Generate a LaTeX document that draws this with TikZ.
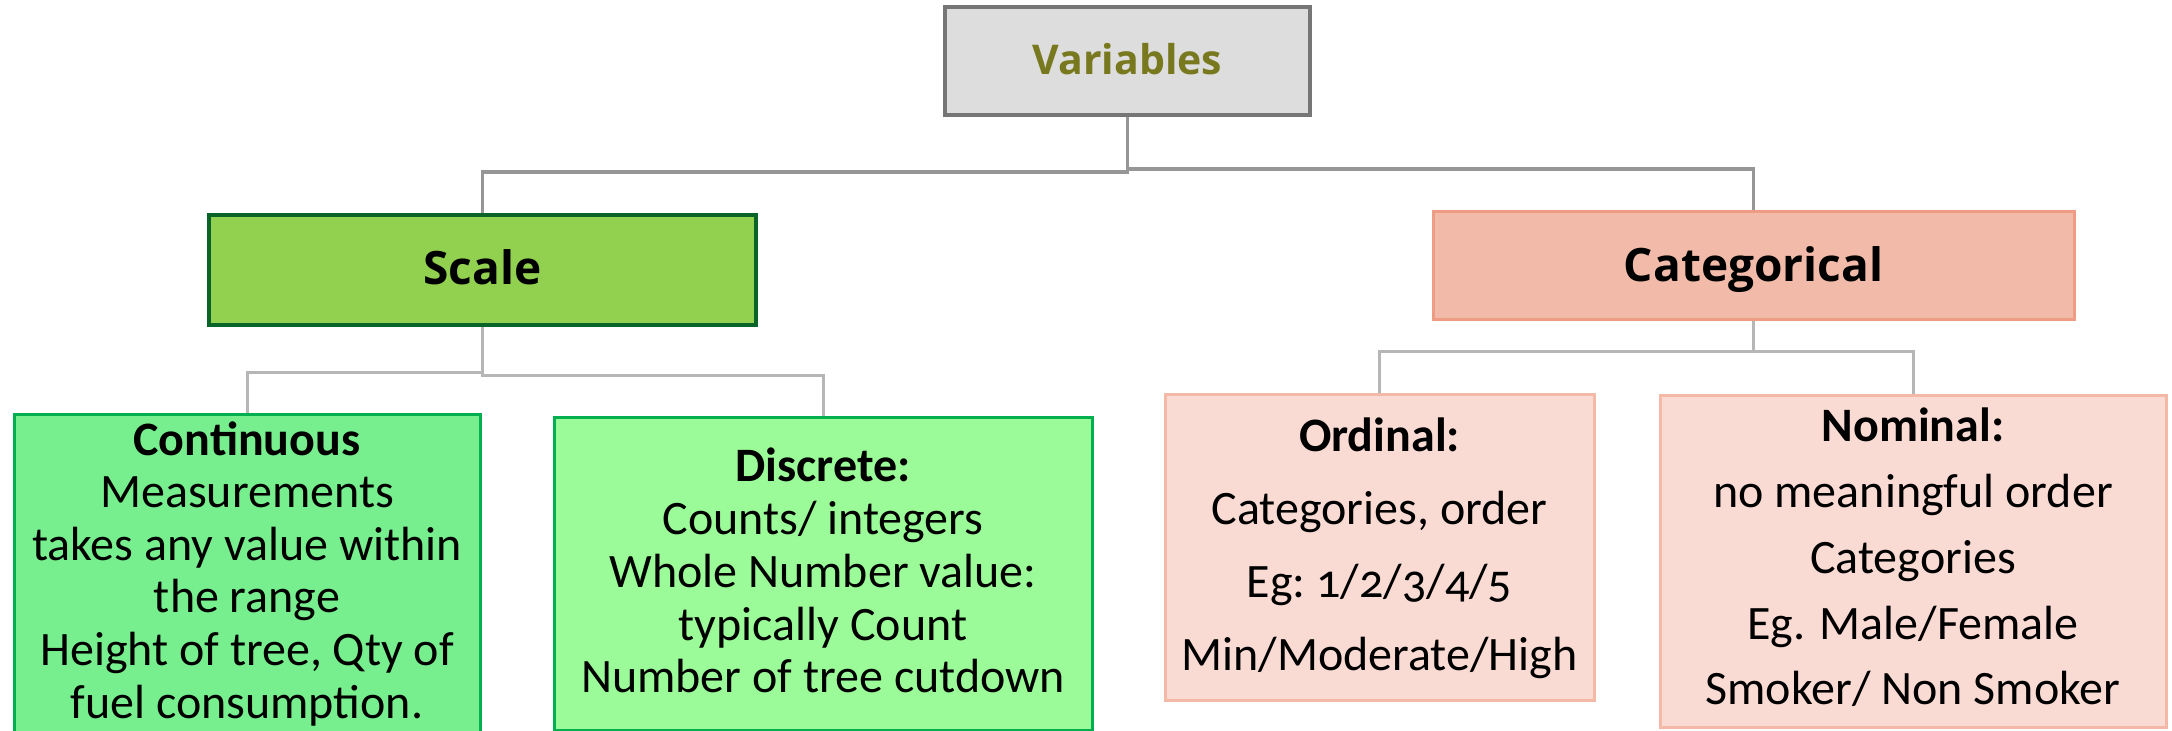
\documentclass[tikz,border=0pt]{standalone}
\usepackage{fontspec}
\setmainfont{Carlito}
\newfontfamily\hdrfont{Open Sans}
\definecolor{varfill}{RGB}{221,221,221}
\definecolor{vardraw}{RGB}{118,118,118}
\definecolor{vartext}{RGB}{120,120,30}
\definecolor{scalefill}{RGB}{146,208,80}
\definecolor{scaledraw}{RGB}{10,100,42}
\definecolor{catfill}{RGB}{242,187,169}
\definecolor{catdraw}{RGB}{238,156,132}
\definecolor{contfill}{RGB}{120,239,142}
\definecolor{discfill}{RGB}{155,251,152}
\definecolor{greendraw}{RGB}{0,176,80}
\definecolor{pinkfill}{RGB}{249,219,212}
\definecolor{pinkdraw}{RGB}{244,184,166}
\definecolor{topgray}{RGB}{150,150,150}
\definecolor{lowgray}{RGB}{182,182,182}
\tikzset{
  box/.style={rectangle, line width=1.5pt, inner sep=0pt},
  conntop/.style={draw=topgray, line width=1.8pt},
  connlow/.style={draw=lowgray, line width=1.5pt},
  hdr/.style={inner sep=0pt, anchor=base, font=\hdrfont\bfseries\fontsize{23}{27}\selectfont},
  body/.style={inner sep=0pt, align=center},
}
\begin{document}
\begin{tikzpicture}[x=0.5pt, y=-0.5pt]
\useasboundingbox (0,0) rectangle (2172,731);
% boxes
\node[box, draw=vardraw, line width=1.7pt, fill=varfill, minimum width=182.5pt, minimum height=54pt] (var) at (1127.5,61) {};
\node[box, draw=scaledraw, line width=1.7pt, fill=scalefill, minimum width=273.5pt, minimum height=55pt] (scale) at (482.5,270) {};
\node[box, draw=catdraw, fill=catfill, minimum width=320.5pt, minimum height=54pt] (cat) at (1753.5,266) {};
\node[box, draw=greendraw, fill=contfill, minimum width=233pt, minimum height=172.5pt] (cont) at (247,587.5) {};
\node[box, draw=greendraw, fill=discfill, minimum width=269pt, minimum height=156pt] (disc) at (823,574) {};
\node[box, draw=pinkdraw, fill=pinkfill, minimum width=214.5pt, minimum height=152.5pt] (ord) at (1379.5,547.5) {};
\node[box, draw=pinkdraw, fill=pinkfill, minimum width=253pt, minimum height=165.5pt] (nom) at (1913,561.5) {};
% connectors
\coordinate (jl) at (1127.5,172);
\coordinate (jr) at (1127.5,169);
\draw[conntop] (var.south) -- (jl) -| (scale.north);
\draw[conntop] (jr) -| (cat.north);
\coordinate (sl) at (482.5,373);
\coordinate (sr) at (482.5,376);
\draw[connlow] (scale.south) -- (sr) -| (disc.north);
\draw[connlow] (sl) -| (cont.north);
\coordinate (cj) at (1753.5,352);
\draw[connlow] (cat.south) -- (cj) -| (ord.north);
\draw[connlow] (cj) -| (nom.north);
% header texts
\node[hdr, text=vartext, font=\hdrfont\bfseries\fontsize{20.5}{24}\selectfont] (vart) at (1127.5,75) {Variables};
\node[hdr] (scalet) at (482.5,285) {Scale};
\node[hdr] (catt) at (1753.5,282) {Categorical};
% body texts
\node[body, font=\fontsize{24}{26.3}\selectfont] (contt) at (247,576) {\strut\textbf{Continuous}\\
\strut Measurements\\
\strut takes any value within\\
\strut the range\\
\strut Height of tree, Qty of\\
\strut fuel consumption.};
\node[body, font=\fontsize{24}{26.4}\selectfont] (disct) at (823,576.8) {\strut\textbf{Discrete:}\\
\strut Counts/ integers\\
\strut Whole Number value:\\
\strut typically Count\\
\strut Number of tree cutdown};
\node[body, font=\fontsize{24}{36.4}\selectfont] (ordt) at (1379.5,546.3) {\strut\textbf{Ordinal:}\\
\strut Categories, order\\
\strut Eg:~{\addfontfeatures{Numbers=OldStyle}1/2/3/4/5}\\
\strut Min/Moderate/High};
\node[body, font=\fontsize{24}{32.9}\selectfont] (nomt) at (1913,560.2) {\strut\textbf{Nominal:}\\
\strut no meaningful order\\
\strut Categories\\
\strut Eg. Male/Female\\
\strut Smoker/ Non Smoker};
\end{tikzpicture}
\end{document}
